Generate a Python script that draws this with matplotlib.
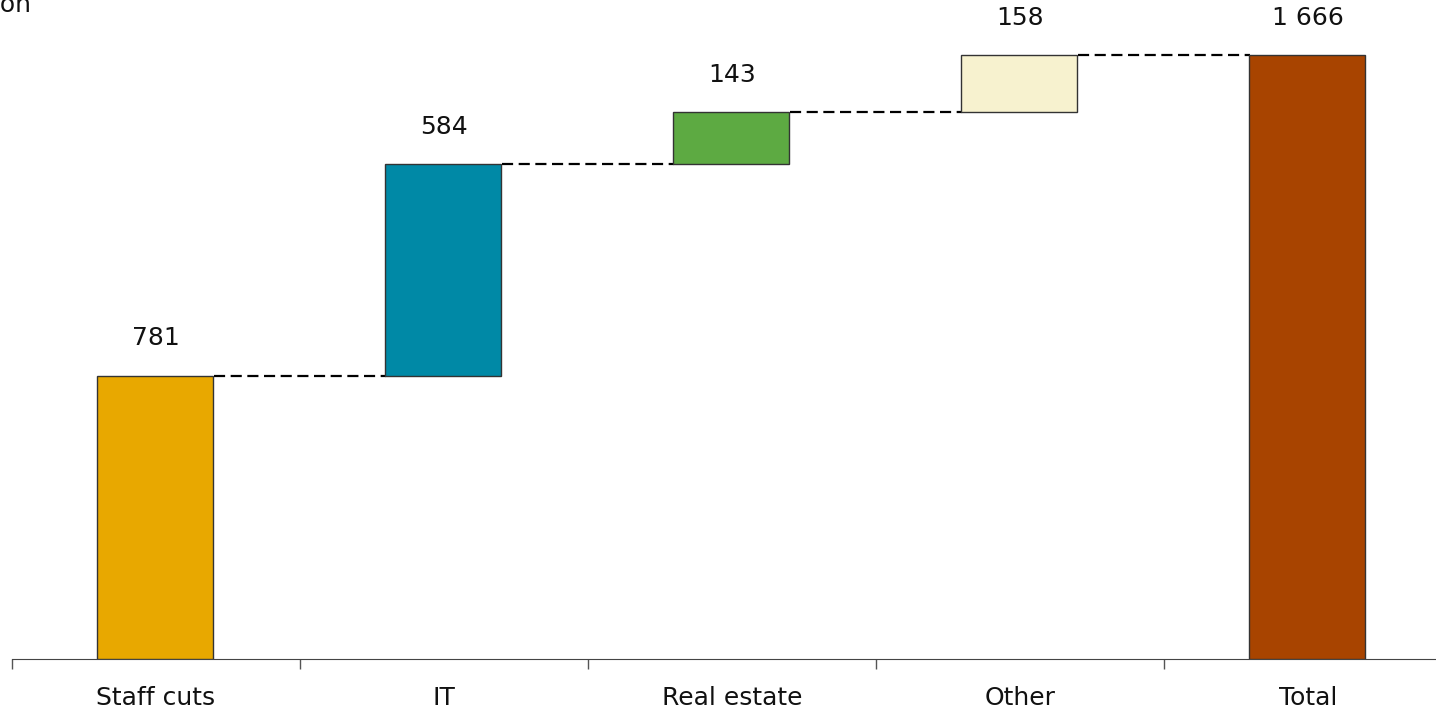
import matplotlib
matplotlib.use("Agg")
import matplotlib.pyplot as plt
import numpy as np

# data
categories = ["Staff cuts", "IT", "Real estate", "Other", "Total"]
steps = [781, 584, 143, 158]
total = 1666
bar_labels = ["781", "584", "143", "158", "1 666"]
colors = ["#E8A800", "#0089A6", "#5DAA42", "#F7F2CF", "#A84400"]

values = steps + [total]
bottoms = list(np.concatenate([[0], np.cumsum(steps)[:-1]])) + [0]
tops = [b + v for b, v in zip(bottoms, values)]

plt.rcParams['font.family'] = ['DejaVu Sans']

fig = plt.figure(figsize=(14.36, 7.12), dpi=100)
ax = fig.add_axes([12 / 1436, 53 / 712, 1440 / 1436, 659 / 712])

x = np.arange(len(categories))
w = 0.405
ax.bar(x - 0.004, values, bottom=bottoms, width=w, color=colors,
       edgecolor="#333333", linewidth=1, zorder=3)

# connectors
for i in range(len(categories) - 1):
    ax.plot([x[i] + w / 2, x[i + 1] - w / 2], [tops[i], tops[i]],
            color="black", linestyle=(0, (5, 2.5)), linewidth=1.6, zorder=2)

# value labels
for xi, t, lab in zip(x, tops, bar_labels):
    ax.annotate(lab, (xi, t), xytext=(0, 27), textcoords="offset points",
                ha="center", va="center", fontsize=18, color="#111111")

ax.set_xlim(-0.5, len(categories) - 0.5)
ax.set_ylim(0, 1818)
ax.set_xticks(x)
ax.set_xticklabels(categories, fontsize=18, color="#111111")
ax.tick_params(axis="x", which="major", length=0, pad=19.5)
ax.set_xticks(np.arange(-0.5, len(categories), 1.0), minor=True)
ax.tick_params(axis="x", which="minor", length=7, width=1, color="#555555")
ax.set_yticks([])
for s in ["top", "right", "left"]:
    ax.spines[s].set_visible(False)
ax.spines["bottom"].set_color("#444444")

# unit label, cropped at the top-left edge as in the original
fig.text(31 / 1436, 1.0 + 7 / 712, "EUR million", ha="right", va="top",
         fontsize=18, color="#111111")

fig.savefig("out.png", dpi=100)
